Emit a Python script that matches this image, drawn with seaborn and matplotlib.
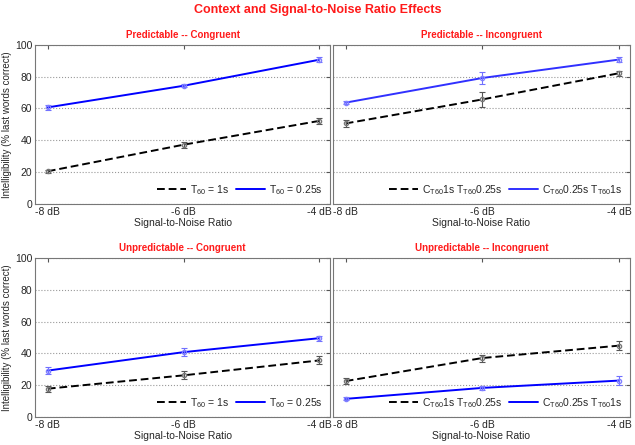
import numpy as np
import pandas as pd
import seaborn as sns
import matplotlib.pyplot as plt

snr = [-8, -6, -4]
snr_labels = ['-8 dB', '-6 dB', '-4 dB']
panel_titles = ['Predictable -- Congruent', 'Predictable -- Incongruent',
                'Unpredictable -- Congruent', 'Unpredictable -- Incongruent']

# black dashed series (T60 = 1s / C 1s T 0.25s)
black_mean = [[20.5, 37.2, 52.2], [50.6, 65.7, 82.2],
              [17.8, 26.2, 35.6], [22.6, 37.1, 44.9]]
black_err = [[1.0, 2.0, 2.0], [2.0, 4.8, 1.5],
             [1.8, 2.5, 2.5], [2.0, 2.2, 3.0]]
# blue solid series (T60 = 0.25s / C 0.25s T 1s)
blue_mean = [[60.7, 74.3, 90.7], [63.7, 79.2, 90.8],
             [29.2, 40.8, 49.6], [11.4, 18.3, 22.9]]
blue_err = [[1.5, 1.0, 1.5], [1.0, 3.5, 1.5],
            [2.0, 2.5, 1.5], [1.0, 1.5, 3.0]]

cong_labels = ['T$_{\\mathrm{60}}$ = 1s', 'T$_{\\mathrm{60}}$ = 0.25s']
incong_labels = ['C$_{\\mathrm{T60}}$1s T$_{\\mathrm{T60}}$0.25s',
                 'C$_{\\mathrm{T60}}$0.25s T$_{\\mathrm{T60}}$1s']

sns.set_style('white')
plt.rcParams['font.family'] = ['Liberation Sans', 'DejaVu Sans']
plt.rcParams['mathtext.fontset'] = 'custom'
plt.rcParams['mathtext.rm'] = 'Liberation Sans'

fig = plt.figure(figsize=(6.35, 4.45), dpi=100)
positions = [[0.055, 0.542, 0.465, 0.357], [0.524, 0.542, 0.468, 0.357],
             [0.055, 0.063, 0.465, 0.357], [0.524, 0.063, 0.468, 0.357]]

for i in range(4):
    ax = fig.add_axes(positions[i])
    labels = cong_labels if i % 2 == 0 else incong_labels
    blue_col = '#0000ff' if i != 1 else '#3030ff'
    df = pd.DataFrame({
        'snr': snr * 2,
        'val': black_mean[i] + blue_mean[i],
        'cond': [labels[0]] * 3 + [labels[1]] * 3,
    })
    sns.lineplot(data=df, x='snr', y='val', hue='cond', style='cond',
                 palette=['black', blue_col], dashes=[(4, 2), ''],
                 linewidth=1.4, ax=ax)
    ax.errorbar(snr, black_mean[i], yerr=black_err[i], fmt='o', ms=3,
                mfc='none', mec='#777777', ecolor='#555555', elinewidth=0.8,
                capsize=2.5, capthick=0.8)
    ax.errorbar(snr, blue_mean[i], yerr=blue_err[i], fmt='o', ms=3,
                mfc='none', mec='#8080ff', ecolor='#7070ff', elinewidth=0.8,
                capsize=2.5, capthick=0.8)

    ax.set_xlim(-8.19, -3.84)
    ax.set_ylim(0, 100)
    ax.set_xticks(snr)
    ax.set_xticklabels(snr_labels)
    ax.set_yticks([0, 20, 40, 60, 80, 100])
    if i % 2 == 0:
        ax.set_ylabel('Intelligibility (% last words correct)', fontsize=7,
                      labelpad=2)
    else:
        ax.set_yticklabels([])
        ax.set_ylabel('')
    ax.set_xlabel('Signal-to-Noise Ratio', fontsize=7.5, labelpad=1)
    ax.set_title(panel_titles[i], color='#ff1a1a', fontweight='bold',
                 fontsize=7, pad=5)
    ax.tick_params(direction='in', length=3, labelsize=7.5, pad=2,
                   top=True, right=True, color='#555555')
    ax.yaxis.grid(True, linestyle=':', color='#999999', linewidth=0.8)
    for s in ax.spines.values():
        s.set_color('#777777')
        s.set_linewidth(0.8)
    leg = ax.legend(loc='lower right', ncol=2, frameon=False, fontsize=7.5,
                    handlelength=2.8, columnspacing=0.6, handletextpad=0.4,
                    borderaxespad=0.3)

fig.suptitle('Context and Signal-to-Noise Ratio Effects', color='#ff1a1a',
             fontweight='bold', fontsize=9, y=0.99)

fig.savefig('out.png', dpi=100)
